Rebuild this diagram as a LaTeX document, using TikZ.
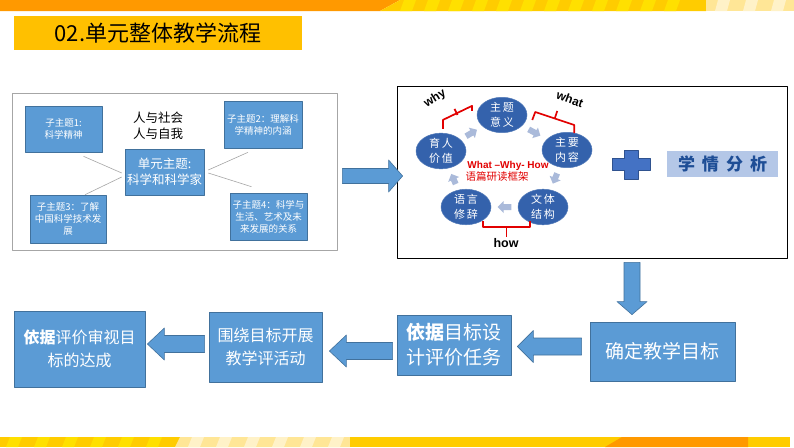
\documentclass[tikz,border=0pt]{standalone}
\usepackage{fontspec}
\setmainfont{Liberation Sans}
\newfontfamily\cjk{Noto Sans CJK SC}
\usepackage{xcolor}
\usepackage{tikz}
\usetikzlibrary{positioning,calc}
\usetikzlibrary{shapes.geometric}

\definecolor{boxblue}{RGB}{91,155,213}
\definecolor{boxline}{RGB}{65,113,156}
\definecolor{ringblue}{RGB}{52,98,172}
\definecolor{chevron}{RGB}{170,186,218}
\definecolor{plusblue}{RGB}{68,114,196}
\definecolor{plusline}{RGB}{47,82,143}
\definecolor{paleblue}{RGB}{180,199,231}
\definecolor{deepblue}{RGB}{30,78,150}
\definecolor{bracketred}{RGB}{226,0,0}
\definecolor{linkgray}{RGB}{166,166,166}
\definecolor{barorange}{RGB}{255,153,0}
\definecolor{baryellow}{RGB}{255,204,0}
\definecolor{barstripe}{RGB}{255,224,0}
\definecolor{barpale}{RGB}{255,230,150}
\definecolor{barpaler}{RGB}{255,242,200}
\definecolor{titlefill}{RGB}{255,192,0}

% fat block arrow from #2 to #3: body half width #4, head half width #5, head length #6
\newcommand\blockarrow[6][]{%
  \coordinate (ba-s) at (#2);
  \coordinate (ba-t) at (#3);
  \coordinate (ba-h) at ($(ba-t)!#6!(ba-s)$);
  \filldraw[#1] ($(ba-s)!#4!90:(ba-t)$) -- ($(ba-h)!#4!-90:(ba-s)$)
    -- ($(ba-h)!#5!-90:(ba-s)$) -- (ba-t) -- ($(ba-h)!#5!90:(ba-s)$)
    -- ($(ba-h)!#4!90:(ba-s)$) -- ($(ba-s)!#4!-90:(ba-t)$) -- cycle;
}

\begin{document}
\begin{tikzpicture}[x=1pt,y=-1pt,line join=round]
% -------------------------------------------------
% Styles
% -------------------------------------------------
\tikzset{
  subbox/.style={draw=boxline, fill=boxblue, line width=0.6pt, text=white, align=center,
    inner sep=0pt, font=\cjk\fontsize{9.5}{12}\selectfont},
  stepbox/.style={draw=boxline, fill=boxblue, line width=0.8pt, text=white, align=center,
    inner sep=0pt},
  ring/.style={ellipse, fill=ringblue, draw=ringblue!85!white, line width=0.5pt,
    minimum width=50pt, minimum height=34pt, inner sep=0pt, text=white, align=center,
    font=\cjk\fontsize{11}{15}\selectfont},
  link/.style={draw=linkgray, line width=0.6pt},
  bracket/.style={draw=bracketred, line width=1.7pt},
  bigarrow/.style={fill=boxblue, draw=boxline, line width=0.6pt},
  smallarrow/.style={fill=chevron, draw=none},
  tag/.style={font=\bfseries\fontsize{12}{12}\selectfont, inner sep=0pt},
}
\useasboundingbox (0,0) rectangle (794,447);
\fill[white] (0,0) rectangle (794,447);
% -------------------------------------------------
% Top and bottom bars
% -------------------------------------------------
\fill[barorange] (0,0) -- (400,0) -- (380,11) -- (0,11) -- cycle;
\fill[baryellow] (400,0) -- (706,0) -- (706,11) -- (380,11) -- cycle;
\foreach \x in {404,428,...,690}{
  \fill[barstripe] (\x,0) -- ++(12,0) -- ++(-4,11) -- ++(-12,0) -- cycle;
}
\fill[barpale] (706,0) rectangle (794,11);
\foreach \x in {718,746,774}{
  \fill[barpaler] (\x,0) -- ++(12,0) -- ++(-3,11) -- ++(-12,0) -- cycle;
}
\fill[baryellow] (0,437) rectangle (180,447);
\foreach \x in {10,38,...,170}{
  \fill[barstripe] (\x,437) -- ++(12,0) -- ++(-4,10) -- ++(-12,0) -- cycle;
}
\fill[barpale] (180,437) -- (350,437) -- (350,447) -- (175,447) -- cycle;
\foreach \x in {192,220,...,335}{
  \fill[barpaler] (\x,437) -- ++(12,0) -- ++(-4,10) -- ++(-12,0) -- cycle;
}
\fill[baryellow] (350,437) rectangle (790,447);
\fill[barorange] (622,437) -- (748,437) -- (748,447) -- (605,447) -- cycle;
% -------------------------------------------------
% Title
% -------------------------------------------------
\node[fill=titlefill, minimum width=288pt, minimum height=34pt, inner sep=0pt,
  font=\cjk\fontsize{22}{22}\selectfont] (title) at (158,33) {02.单元整体教学流程};
% -------------------------------------------------
% Unit theme panel
% -------------------------------------------------
\node[draw=linkgray, line width=0.8pt, minimum width=325pt, minimum height=157pt,
  inner sep=0pt] (themepanel) at (174.5,171.5) {};
\node[subbox, minimum width=77pt, minimum height=46pt] (sub1) at (63.5,129) {子主题1:\\科学精神};
\node[subbox, minimum width=78pt, minimum height=47pt] (sub2) at (263,124.5) {子主题2：理解科\\学精神的内涵};
\node[subbox, minimum width=76pt, minimum height=48pt] (sub3) at (68,219) {子主题3：了解\\中国科学技术发\\展};
\node[subbox, minimum width=77pt, minimum height=47pt] (sub4) at (268.5,216.5) {子主题4：科学与\\生活、艺术及未\\来发展的关系};
\node[subbox, minimum width=79pt, minimum height=46pt,
  font=\cjk\fontsize{12.5}{16}\selectfont] (unit) at (164.5,172) {单元主题:\\科学和科学家};
\node[align=center, inner sep=0pt, font=\cjk\fontsize{12.5}{16}\selectfont] (scope) at (158,126) {人与社会\\人与自我};

\draw[link] ($(sub1.south)+(20,4)$) -- ($(unit.west)+(-3,1)$);
\draw[link] ($(unit.west)+(-3,5)$) -- ($(sub3.north)+(17,0)$);
\draw[link] ($(unit.east)+(4,-2)$) -- ($(sub2.south)+(-15,4)$);
\draw[link] ($(unit.east)+(4,1)$) -- ($(sub4.north)+(-17,-6)$);
% -------------------------------------------------
% Reading framework panel
% -------------------------------------------------
\node[draw=black, line width=0.8pt, minimum width=390pt, minimum height=172pt,
  inner sep=0pt] (frame) at (592,172) {};

\node[ring] (meaning) at (502,115) {主\,题\\意\,义};
\node[ring] (content) at (567,150) {主\,要\\内\,容};
\node[ring] (genre) at (543,207) {文\,体\\结\,构};
\node[ring] (rhetoric) at (466,207) {语\,言\\修\,辞};
\node[ring] (value) at (441,151) {育\,人\\价\,值};

\blockarrow[smallarrow]{$(value)!0.41!(meaning)$}{$(value)!0.59!(meaning)$}{3pt}{6pt}{6pt}
\blockarrow[smallarrow]{$(meaning)!0.41!(content)$}{$(meaning)!0.59!(content)$}{3pt}{6pt}{6pt}
\blockarrow[smallarrow]{$(content)!0.41!(genre)$}{$(content)!0.59!(genre)$}{3pt}{6pt}{6pt}
\blockarrow[smallarrow]{$(genre)!0.41!(rhetoric)$}{$(genre)!0.59!(rhetoric)$}{3pt}{6pt}{6pt}
\blockarrow[smallarrow]{$(rhetoric)!0.41!(value)$}{$(rhetoric)!0.59!(value)$}{3pt}{6pt}{6pt}

\node[text=bracketred, font=\bfseries\fontsize{10}{10}\selectfont, inner sep=0pt]
  (wwh) at (508,166) {What --Why- How};
\node[text=bracketred, font=\cjk\fontsize{10.5}{10.5}\selectfont, inner sep=0pt]
  (frametitle) at (497,177) {语篇研读框架};

\draw[bracket] ($(value.north)+(2,-4)$) -- ++(0,-9) -- ++(29,-14) -- ++(0,5);
\draw[bracket] ($(value.north)+(16.5,-18)$) -- ++(-3,-6);
\draw[bracket] ($(meaning.east)+(5,5)$) -- ++(3,-8) -- ++(39,13) -- ++(0,8);
\draw[bracket] ($(meaning.east)+(27.5,3.5)$) -- ++(2.5,-7.5);
\draw[bracket] ($(rhetoric.south)+(17,-4)$) -- ++(0,6) -- ++(47,0) -- ++(0,-6);
\draw[bracket] ($(rhetoric.south)+(40.5,2)$) -- ++(0,10);

\node[tag, rotate=32] (why) at (435,99) {why};
\node[tag, rotate=-20] (what) at (570,99) {what};
\node[tag, font=\bfseries\fontsize{12.5}{12.5}\selectfont] (how) at (506,243) {how};

% plus sign and learner analysis
\coordinate (plus) at (631,164);
\filldraw[fill=plusblue, draw=plusline, line width=0.6pt]
  ($(plus)+(-19,-6)$) -- ++(12,0) -- ++(0,-8) -- ++(14,0) -- ++(0,8) -- ++(12,0)
  -- ++(0,12) -- ++(-12,0) -- ++(0,9) -- ++(-14,0) -- ++(0,-9) -- ++(-12,0) -- cycle;
\node[fill=paleblue, minimum width=111pt, minimum height=26pt, inner sep=0pt,
  text=deepblue, font=\cjk\bfseries\fontsize{17}{17}\selectfont]
  (analysis) at (722.5,164) {学\hspace{7pt}情\hspace{7pt}分\hspace{7pt}析};
% -------------------------------------------------
% Steps
% -------------------------------------------------
\node[stepbox, minimum width=145pt, minimum height=59pt,
  font=\cjk\fontsize{19}{25}\selectfont] (goal) at (662.5,351.5) {确定教学目标};
\node[stepbox, minimum width=114pt, minimum height=60pt,
  font=\cjk\fontsize{19}{25}\selectfont] (task) at (454,345) {{\bfseries 依据}目标设\\计评价任务};
\node[stepbox, minimum width=113pt, minimum height=70pt,
  font=\cjk\fontsize{16}{23}\selectfont] (activity) at (265.5,347) {围绕目标开展\\教学评活动};
\node[stepbox, minimum width=131pt, minimum height=76pt,
  font=\cjk\fontsize{16}{23}\selectfont] (review) at (79.5,349) {{\bfseries 依据}评价审视目\\标的达成};

% block arrows
\coordinate (panelout) at ($(themepanel.east)+(5,4.5)$);
\blockarrow[bigarrow]{panelout}{$(panelout -| frame.west)+(6,0)$}{7.5pt}{16pt}{14pt}
\coordinate (frameout) at ($(frame.south)+(40,4)$);
\blockarrow[bigarrow]{frameout}{$(frameout |- goal.north)+(0,-7)$}{8pt}{15pt}{13pt}
\coordinate (goalout) at ($(goal.west)+(-8,-5)$);
\blockarrow[bigarrow]{goalout}{$(goalout -| task.east)+(6,0)$}{8.5pt}{16pt}{16pt}
\coordinate (taskout) at ($(task.west)+(-4,6)$);
\blockarrow[bigarrow]{taskout}{$(taskout -| activity.east)+(7,0)$}{8.5pt}{16pt}{17pt}
\coordinate (activityout) at ($(activity.west)+(-4,-3)$);
\blockarrow[bigarrow]{activityout}{$(activityout -| review.east)+(2,0)$}{8.5pt}{16pt}{17pt}

\end{tikzpicture}
\end{document}
